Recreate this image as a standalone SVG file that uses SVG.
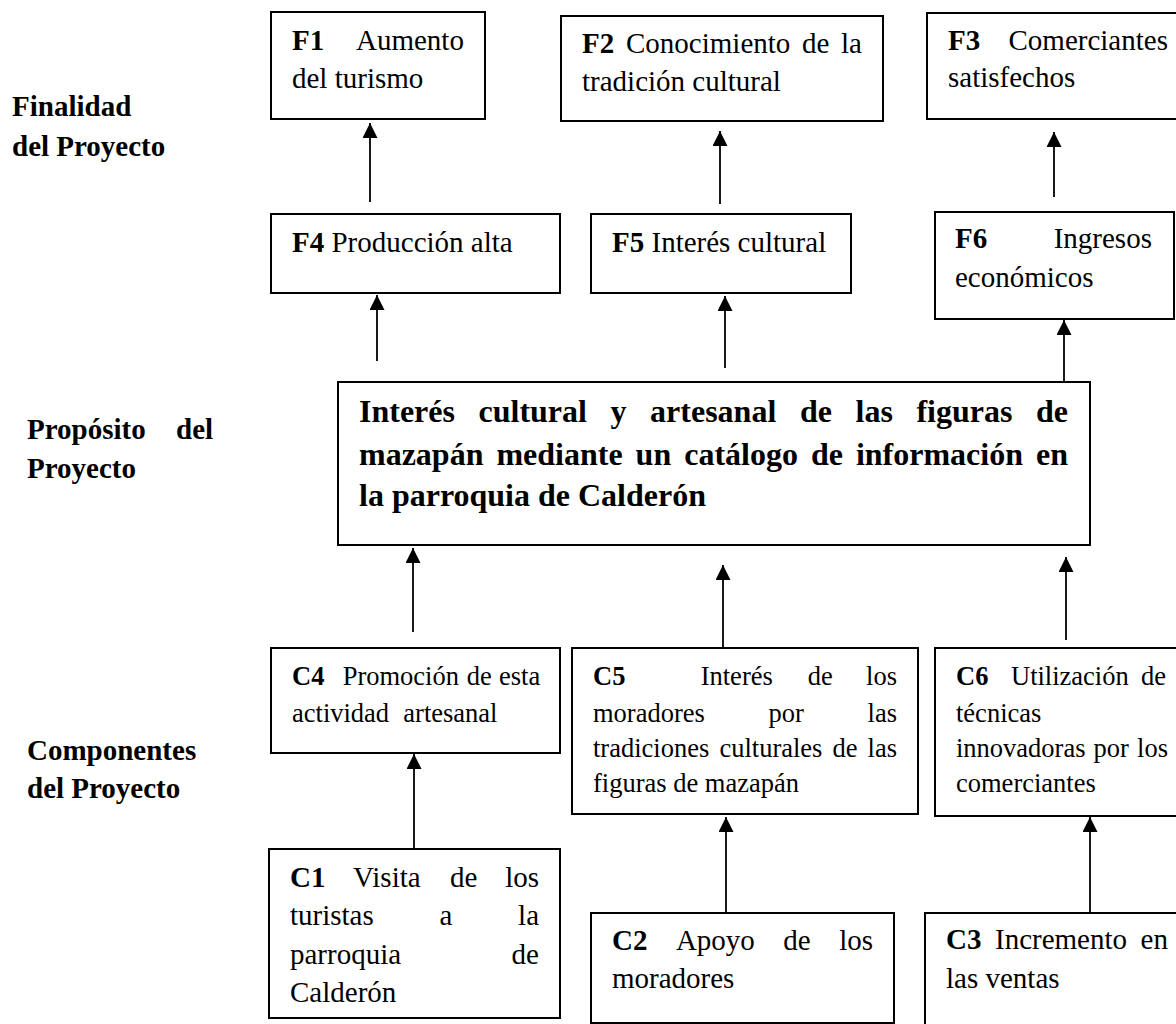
<svg xmlns="http://www.w3.org/2000/svg" width="1176" height="1024" viewBox="0 0 1176 1024">
<style>
.box{fill:#fff;stroke:#000;stroke-width:2}
.t{font-family:"Liberation Serif","Times New Roman",serif;font-size:29px;fill:#000}
.s{font-size:26.5px}
.b{font-weight:bold}
.p{font-family:"Liberation Serif","Times New Roman",serif;font-size:32px;font-weight:bold;fill:#000}
.c{stroke:#000;stroke-width:1.8;fill:none}
</style>
<defs>
<marker id="ah" markerUnits="userSpaceOnUse" markerWidth="15" markerHeight="15" viewBox="0 0 15 15" refX="15" refY="7.5" orient="auto">
<path d="M0,0 L15,7.5 L0,15 Z" fill="#000"/>
</marker>
</defs>
<rect width="1176" height="1024" fill="#fff"/>

<g id="labels">
<text class="t b" x="12" y="116">Finalidad</text>
<text class="t b" x="12" y="156">del Proyecto</text>
<text class="t b" y="439"><tspan x="27">Propósito</tspan><tspan x="176">del</tspan></text>
<text class="t b" x="27" y="478">Proyecto</text>
<text class="t b" x="27" y="760">Componentes</text>
<text class="t b" x="27" y="798">del Proyecto</text>
</g>

<g id="connectors">
<line class="c" x1="370" y1="202" x2="370" y2="123" marker-end="url(#ah)"/>
<line class="c" x1="720" y1="204" x2="720" y2="131" marker-end="url(#ah)"/>
<line class="c" x1="1054" y1="197" x2="1054" y2="132" marker-end="url(#ah)"/>
<line class="c" x1="377" y1="361" x2="377" y2="295" marker-end="url(#ah)"/>
<line class="c" x1="725" y1="368" x2="725" y2="296" marker-end="url(#ah)"/>
<line class="c" x1="1064" y1="382" x2="1064" y2="320" marker-end="url(#ah)"/>
<line class="c" x1="413" y1="632" x2="413" y2="548" marker-end="url(#ah)"/>
<line class="c" x1="723" y1="648" x2="723" y2="565" marker-end="url(#ah)"/>
<line class="c" x1="1066" y1="640" x2="1066" y2="557" marker-end="url(#ah)"/>
<line class="c" x1="414" y1="849" x2="414" y2="754" marker-end="url(#ah)"/>
<line class="c" x1="726" y1="913" x2="726" y2="817" marker-end="url(#ah)"/>
<line class="c" x1="1090" y1="913" x2="1090" y2="817" marker-end="url(#ah)"/>
</g>

<g id="F1">
<rect class="box" x="271" y="12" width="214" height="107"/>
<text class="t" y="50"><tspan x="292" class="b">F1</tspan><tspan x="356">Aumento</tspan></text>
<text class="t" x="292" y="88">del turismo</text>
</g>

<g id="F2">
<rect class="box" x="561" y="16" width="322" height="105"/>
<text class="t" y="53"><tspan x="582" class="b">F2</tspan><tspan x="626">Conocimiento</tspan><tspan x="802">de</tspan><tspan x="841">la</tspan></text>
<text class="t" x="582" y="91">tradición cultural</text>
</g>

<g id="F3">
<rect class="box" x="927" y="13" width="260" height="106"/>
<text class="t" y="50"><tspan x="948" class="b">F3</tspan><tspan x="1008.5">Comerciantes</tspan></text>
<text class="t" x="948" y="87">satisfechos</text>
</g>

<g id="F4">
<rect class="box" x="271" y="214" width="289" height="79"/>
<text class="t" x="292" y="252"><tspan class="b">F4</tspan> Producción alta</text>
</g>

<g id="F5">
<rect class="box" x="591" y="214" width="260" height="79"/>
<text class="t" x="612" y="252"><tspan class="b">F5</tspan> Interés cultural</text>
</g>

<g id="F6">
<rect class="box" x="935" y="212" width="239" height="107"/>
<text class="t" y="248"><tspan x="955" class="b">F6</tspan><tspan x="1053.7">Ingresos</tspan></text>
<text class="t" x="955" y="287">económicos</text>
</g>

<g id="P">
<rect class="box" x="338" y="382" width="752" height="163"/>
<text class="p" y="422"><tspan x="359">Interés</tspan><tspan x="478.5">cultural</tspan><tspan x="610.6">y</tspan><tspan x="650.1">artesanal</tspan><tspan x="799.9">de</tspan><tspan x="855.5">las</tspan><tspan x="916.4">figuras</tspan><tspan x="1036">de</tspan></text>
<text class="p" y="465"><tspan x="359">mazapán</tspan><tspan x="496.4">mediante</tspan><tspan x="635.6">un</tspan><tspan x="684.2">catálogo</tspan><tspan x="810.9">de</tspan><tspan x="855.9">información</tspan><tspan x="1036">en</tspan></text>
<text class="p" x="359" y="506">la parroquia de Calderón</text>
</g>

<g id="C4">
<rect class="box" x="271" y="648" width="289" height="105"/>
<text class="t s" y="685"><tspan x="292" class="b">C4</tspan><tspan x="342.7">Promoción</tspan><tspan x="466.7">de</tspan><tspan x="499">esta</tspan></text>
<text class="t s" y="722"><tspan x="292">actividad</tspan><tspan x="403.3">artesanal</tspan></text>
</g>

<g id="C5">
<rect class="box" x="572" y="648" width="346" height="166"/>
<text class="t s" y="685"><tspan x="593" class="b">C5</tspan><tspan x="700.7">Interés</tspan><tspan x="807.7">de</tspan><tspan x="866.1">los</tspan></text>
<text class="t s" y="722"><tspan x="593">moradores</tspan><tspan x="768.6">por</tspan><tspan x="867.6">las</tspan></text>
<text class="t s" y="757"><tspan x="593">tradiciones</tspan><tspan x="719.4">culturales</tspan><tspan x="832.5">de</tspan><tspan x="867.6">las</tspan></text>
<text class="t s" x="593" y="792">figuras de mazapán</text>
</g>

<g id="C6">
<rect class="box" x="935" y="648" width="250" height="168"/>
<text class="t s" y="685"><tspan x="956" class="b">C6</tspan><tspan x="1011">Utilización</tspan><tspan x="1141">de</tspan></text>
<text class="t s" x="956" y="722">técnicas</text>
<text class="t s" y="757"><tspan x="956">innovadoras</tspan><tspan x="1093.6">por</tspan><tspan x="1137.1">los</tspan></text>
<text class="t s" x="956" y="792">comerciantes</text>
</g>

<g id="C1">
<rect class="box" x="269" y="849" width="291" height="169"/>
<text class="t" y="887"><tspan x="290" class="b">C1</tspan><tspan x="353.1">Visita</tspan><tspan x="450.1">de</tspan><tspan x="505.2">los</tspan></text>
<text class="t" y="925"><tspan x="290">turistas</tspan><tspan x="439.5">a</tspan><tspan x="518.1">la</tspan></text>
<text class="t" y="964"><tspan x="290">parroquia</tspan><tspan x="511.6">de</tspan></text>
<text class="t" x="290" y="1002">Calderón</text>
</g>

<g id="C2">
<rect class="box" x="591" y="913" width="303" height="110"/>
<text class="t" y="950"><tspan x="612" class="b">C2</tspan><tspan x="675.9">Apoyo</tspan><tspan x="783.3">de</tspan><tspan x="839.2">los</tspan></text>
<text class="t" x="612" y="988">moradores</text>
</g>

<g id="C3">
<rect class="box" x="925" y="913" width="260" height="120"/>
<text class="t" y="949"><tspan x="946" class="b">C3</tspan><tspan x="995">Incremento</tspan><tspan x="1140.6">en</tspan></text>
<text class="t" x="946" y="988">las ventas</text>
</g>
</svg>
